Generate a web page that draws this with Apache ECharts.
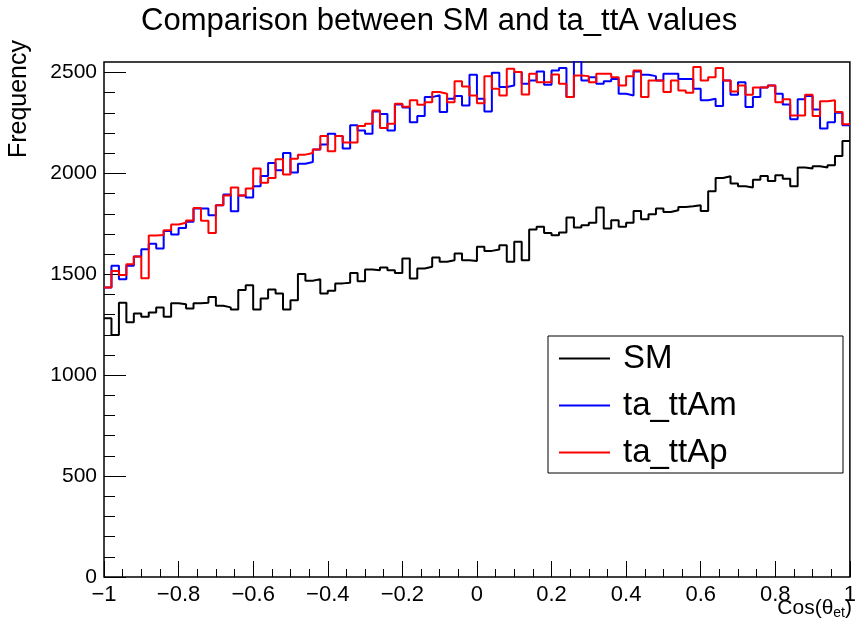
<!DOCTYPE html>
<html><head><meta charset="utf-8">
<script src="https://cdn.jsdelivr.net/npm/echarts@6/dist/echarts.min.js"></script>
<style>html,body{margin:0;padding:0;background:#fff}#c{width:859px;height:632px}</style>
</head><body><div id="c"></div>
<script>
const xMin = -1, xMax = 1;
const seriesNames = ['SM', 'ta_ttAm', 'ta_ttAp'];
const smValues = [
1282,1199,1359,1262,1306,1290,1311,1336,1290,1356,
1351,1331,1356,1359,1388,1344,1336,1326,1422,1446,
1326,1380,1425,1405,1326,1372,1501,1468,1476,1405,
1418,1455,1458,1507,1466,1524,1520,1534,1520,1507,
1578,1479,1529,1537,1583,1562,1570,1603,1570,1566,
1636,1616,1623,1644,1562,1661,1570,1722,1735,1705,
1694,1707,1781,1732,1743,1755,1831,1727,1768,1735,
1755,1814,1773,1798,1826,1809,1817,1834,1837,1842,
1814,1911,1977,1986,1950,1936,1930,1969,1987,1962,
1991,1974,1936,2029,2024,2035,2029,2040,2086,2160];
const ttAmValues = [
1435,1542,1476,1542,1588,1624,1651,1628,1715,1697,
1730,1760,1826,1826,1793,1842,1895,1812,1890,1880,
1936,1987,2052,2015,2101,2004,2048,2056,2118,2143,
2197,2185,2123,2238,2213,2197,2307,2294,2213,2342,
2326,2254,2284,2378,2387,2304,2370,2383,2337,2489,
2370,2307,2499,2428,2436,2502,2444,2460,2505,2439,
2510,2522,2378,2560,2460,2477,2444,2457,2468,2395,
2386,2505,2489,2482,2460,2494,2494,2468,2468,2420,
2362,2370,2334,2460,2390,2452,2329,2378,2426,2436,
2395,2342,2268,2367,2383,2317,2222,2254,2300,2238];
const ttApValues = [
1435,1516,1496,1550,1588,1481,1692,1695,1718,1747,
1755,1766,1829,1765,1705,1842,1890,1930,1890,1925,
2024,1954,1977,2070,1994,2073,2093,2101,2118,2185,
2110,2185,2153,2153,2235,2246,2312,2225,2246,2345,
2330,2362,2340,2353,2403,2395,2353,2457,2431,2386,
2348,2482,2420,2386,2519,2502,2391,2494,2452,2452,
2490,2444,2378,2485,2482,2452,2494,2494,2477,2436,
2482,2510,2378,2460,2460,2403,2460,2411,2400,2527,
2460,2477,2522,2460,2406,2436,2390,2426,2426,2436,
2353,2367,2287,2287,2390,2284,2357,2362,2304,2243];
const yMajorTicks = [0, 500, 1000, 1500, 2000, 2500];
const yMinorTicks = [100,200,300,400,600,700,800,900,1100,1200,1300,1400,1600,1700,1800,1900,2100,2200,2300,2400];
const yMax = 2552;

function stepData(vals) {
  const w = (xMax - xMin) / vals.length;
  const d = vals.map((v, i) => [xMin + i * w, v]);
  d.push([xMax, vals[vals.length - 1]]);
  return d;
}
const FONT = 'Liberation Sans, Arial, Helvetica, sans-serif';
const chart = echarts.init(document.getElementById('c'), null, {renderer: 'canvas'});
const colors = ['#000000', '#0000ff', '#ff0000'];
const vals = [smValues, ttAmValues, ttApValues];
chart.setOption({
  animation: false,
  backgroundColor: '#ffffff',
  title: {
    text: 'Comparison between SM and ta_ttA values',
    left: 136, top: 1,
    textStyle: {fontFamily: FONT, fontSize: 31, fontWeight: 'normal', color: '#000'}
  },
  grid: {left: 104, top: 62, right: 7, bottom: 55, show: true, borderColor: '#000', borderWidth: 1.5, backgroundColor: 'transparent'},
  legend: {
    orient: 'vertical', left: 559, top: 342, padding: 0,
    itemWidth: 51, itemHeight: 2, itemGap: 14, icon: 'rect',
    data: seriesNames,
    textStyle: {fontFamily: FONT, fontSize: 33, lineHeight: 33, color: '#000', padding: [0, 0, 0, 8]}
  },
  xAxis: {
    type: 'value', min: xMin, max: xMax, interval: 0.2,
    axisLine: {show: false, onZero: false},
    axisTick: {inside: true, length: 16, lineStyle: {color: '#000', width: 1}},
    minorTick: {show: true, splitNumber: 4, length: 8, lineStyle: {color: '#000', width: 1}},
    splitLine: {show: false}, minorSplitLine: {show: false},
    axisLabel: {
      margin: 7, color: '#000', fontFamily: FONT, fontSize: 22,
      formatter: v => { const r = Math.round(v * 10) / 10; return r === 0 ? '0' : String(r).replace('-', '\u2212'); }
    }
  },
  yAxis: [{
    type: 'value', min: 0, max: yMax, position: 'left',
    axisLine: {show: false, onZero: false},
    axisTick: {inside: true, length: 22, customValues: yMajorTicks, lineStyle: {color: '#000', width: 1}},
    axisLabel: {customValues: yMajorTicks, margin: 7, color: '#000', fontFamily: FONT, fontSize: 21,
      formatter: v => String(Math.round(v))},
    splitLine: {show: false}
  }, {
    type: 'value', min: 0, max: yMax, position: 'left',
    axisLine: {show: false, onZero: false},
    axisTick: {inside: true, length: 11, customValues: yMinorTicks, lineStyle: {color: '#000', width: 1}},
    axisLabel: {show: false},
    splitLine: {show: false}
  }],
  graphic: [
    {type: 'rect', shape: {x: 548, y: 336, width: 295, height: 137}, style: {fill: 'transparent', stroke: '#000', lineWidth: 1}, z: 10},
    {type: 'text', x: 19, y: 40, rotation: Math.PI / 2,
     style: {text: 'Frequency', font: '25px ' + FONT, fill: '#000', align: 'right', verticalAlign: 'middle'}},
    {type: 'text', x: 852, y: 608,
     style: {text: '{a|Cos(θ}{s|et}{a|)}', align: 'right', verticalAlign: 'middle', fill: '#000',
       rich: {a: {fontFamily: FONT, fontSize: 21, fill: '#000'}, s: {fontFamily: FONT, fontSize: 14, padding: [10, 0, 0, 0], fill: '#000'}}}}
  ],
  series: seriesNames.map((n, k) => ({
    name: n, type: 'line', step: 'end', symbol: 'none', clip: true,
    data: stepData(vals[k]),
    lineStyle: {color: colors[k], width: 2},
    itemStyle: {color: colors[k]},
    z: 2 + k
  }))
});
</script></body></html>
